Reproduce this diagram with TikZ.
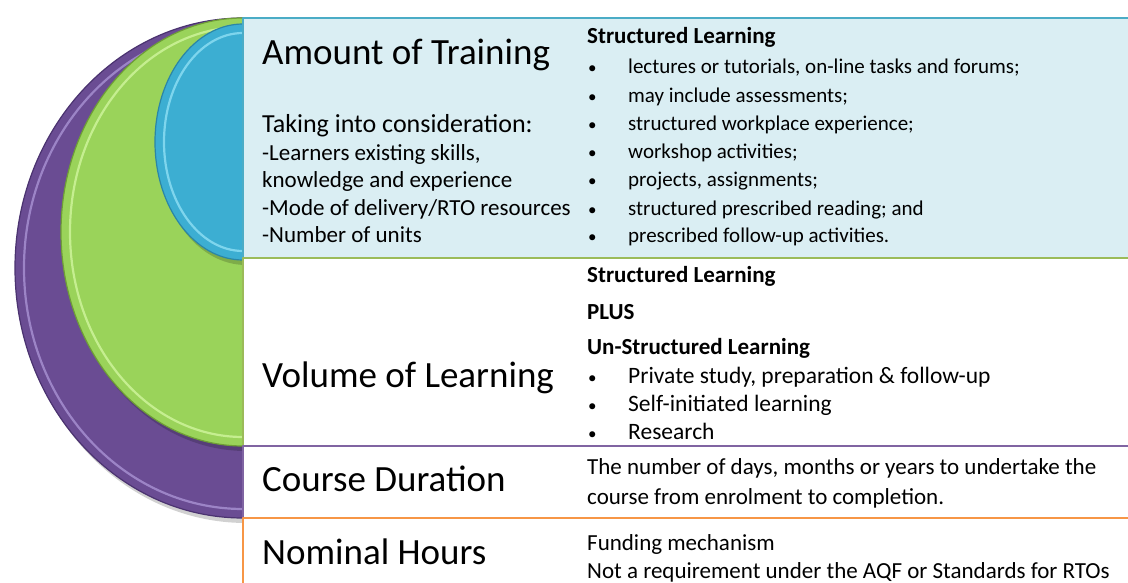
\documentclass[tikz,border=0pt]{standalone}
\usepackage{fontspec}
\setmainfont{Carlito}
\definecolor{trainfill}{HTML}{DAEEF3}
\definecolor{trainline}{HTML}{4BACC6}
\definecolor{volline}{HTML}{9BBB59}
\definecolor{durline}{HTML}{8064A2}
\definecolor{nomline}{HTML}{F79646}
\definecolor{bluelobe}{HTML}{3CAED2}
\definecolor{bluerim}{HTML}{2B86A6}
\definecolor{bluelight}{HTML}{8ADDF2}
\definecolor{greenlobe}{HTML}{9AD35A}
\definecolor{greenrim}{HTML}{6E9E36}
\definecolor{greenlight}{HTML}{CDF39A}
\definecolor{purplelobe}{HTML}{6A4C93}
\definecolor{purplerim}{HTML}{4B3370}
\definecolor{purplelight}{HTML}{A58ED0}

\begin{document}
\begin{tikzpicture}[
  x=1pt,
  y=-1pt,
  line join=round,
  heading/.style={anchor=base west,inner sep=0pt,font=\fontsize{37}{42}\selectfont},
  lead/.style={anchor=base west,inner sep=0pt,font=\fontsize{26}{30}\selectfont},
  note/.style={anchor=base west,inner sep=0pt,font=\fontsize{23}{28}\selectfont},
  item/.style={anchor=base west,inner sep=0pt,font=\fontsize{21}{28}\selectfont},
  bigitem/.style={anchor=base west,inner sep=0pt,font=\fontsize{23.5}{28}\selectfont},
  itemhead/.style={anchor=base west,inner sep=0pt,font=\fontsize{23}{28}\selectfont\bfseries},
  small/.style={anchor=base west,inner sep=0pt,font=\fontsize{23}{28}\selectfont},
  dot/.style={anchor=base west,inner sep=0pt,font=\fontsize{17}{28}\selectfont},
  band/.style={line width=2.6pt}
]
  \newcommand{\drawlobe}[6]{%
    \begin{scope}
      \clip (0,0) rectangle (243,583);
      \fill[black,opacity=0.18] (246,{#1+5}) ellipse[x radius=#2,y radius=#3];
      \fill[#4] (243,#1) ellipse[x radius=#2,y radius=#3];
      \draw[#5,line width=1.2pt] (243,#1) ellipse[x radius=#2,y radius=#3];
      \draw[#6,line width=2.2pt,opacity=0.85] (243,#1) ellipse[x radius={#2-9},y radius={#3-9}];
    \end{scope}
  }
  \useasboundingbox (0,0) rectangle (1128,583);

  % Nested half discs, outer one first.
  \drawlobe{268}{228}{250}{purplelobe}{purplerim}{purplelight}
  \drawlobe{232}{182}{214}{greenlobe}{greenrim}{greenlight}
  \drawlobe{142}{88}{118}{bluelobe}{bluerim}{bluelight}

  % Bands, top to bottom.
  \draw[band,draw=trainline,fill=trainfill] (243,18) rectangle (1140,258);
  \draw[band,draw=volline,fill=white] (243,258) rectangle (1140,446);
  \draw[band,draw=durline,fill=white] (243,446) rectangle (1140,518);
  \draw[band,draw=nomline,fill=white] (243,518) rectangle (1140,600);

  % Amount of Training.
  \node[heading] (train) at (262,65) {Amount of Training};
  \node[lead] (consider) at (262,133) {Taking into consideration:};
  \node[note] (skills) at (262,161) {-Learners existing skills,};
  \node[note] (knowledge) at (262,188) {knowledge and experience};
  \node[note] (mode) at (262,215) {-Mode of delivery/RTO resources};
  \node[note] (units) at (262,243) {-Number of units};
  \node[itemhead] (slhead) at (587,44) {Structured Learning};
  \foreach \y/\txt [count=\i] in {
      74/{lectures or tutorials, on-line tasks and forums;},
      103/{may include assessments;},
      131/{structured workplace experience;},
      159/{workshop activities;},
      187/{projects, assignments;},
      215/{structured prescribed reading; and},
      243/{prescribed follow-up activities.}} {
    \node[dot] (sldot\i) at (588,\y) {\textbullet};
    \node[item] (sl\i) at (628,\y) {\txt};
  }

  % Volume of Learning.
  \node[heading] (volume) at (262,387) {Volume of Learning};
  \node[itemhead] (volsl) at (587,282) {Structured Learning};
  \node[itemhead] (volplus) at (587,319) {PLUS};
  \node[itemhead] (volul) at (587,354) {Un-Structured Learning};
  \foreach \y/\txt [count=\i] in {
      383/{Private study, preparation \& follow-up},
      411/{Self-initiated learning},
      439/{Research}} {
    \node[dot] (uldot\i) at (588,\y) {\textbullet};
    \node[bigitem] (ul\i) at (628,\y) {\txt};
  }

  % Course Duration.
  \node[heading] (duration) at (262,491) {Course Duration};
  \node[note] (dur1) at (587,474) {The number of days, months or years to undertake the};
  \node[note] (dur2) at (587,504) {course from enrolment to completion.};

  % Nominal Hours.
  \node[heading] (nominal) at (262,564) {Nominal Hours};
  \node[small] (nom1) at (587,550) {Funding mechanism};
  \node[small] (nom2) at (587,578) {Not a requirement under the AQF or Standards for RTOs};
\end{tikzpicture}
\end{document}
